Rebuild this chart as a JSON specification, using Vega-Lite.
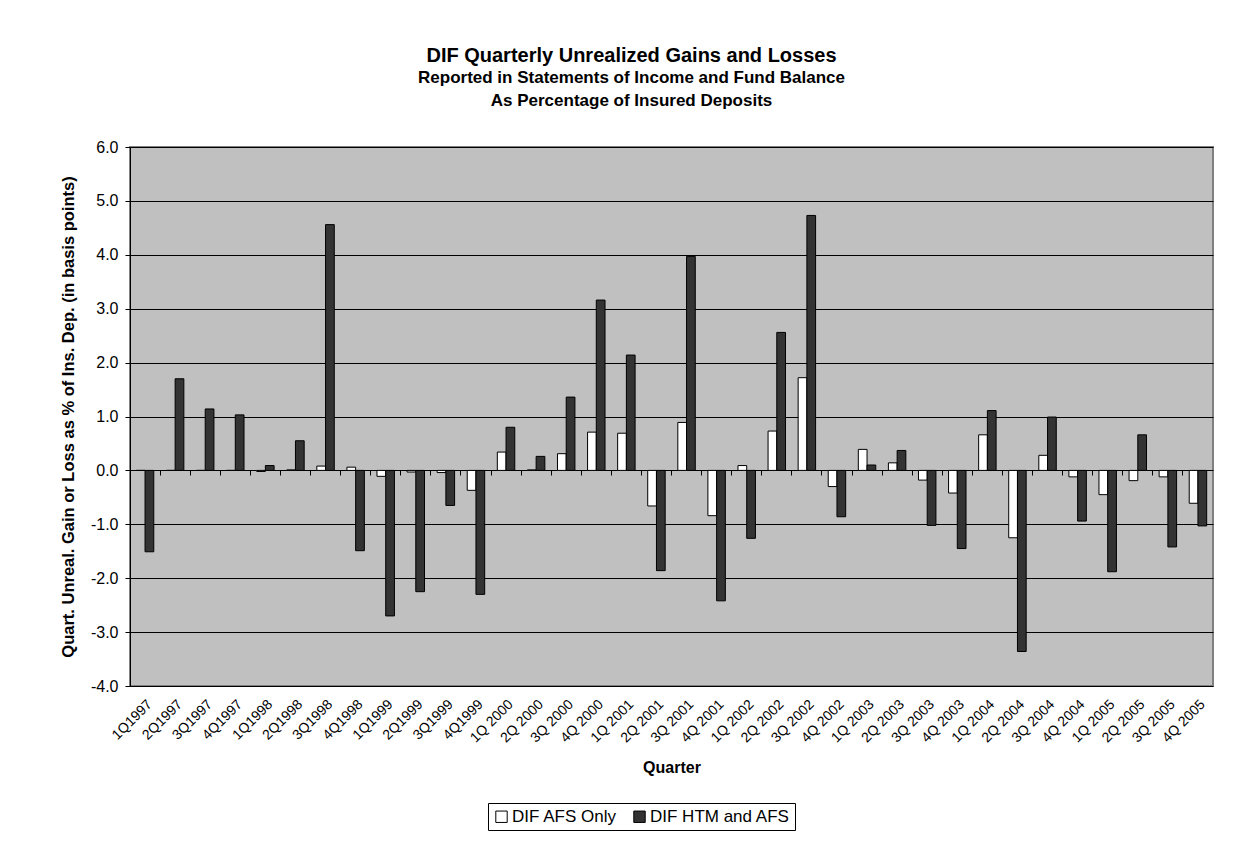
{
  "$schema": "https://vega.github.io/schema/vega-lite/v6.json",
  "autosize": {"type": "none"},
  "width": 1083,
  "height": 539,
  "padding": {"left": 130, "top": 147, "right": 32, "bottom": 156},
  "background": "white",
  "config": {
    "font": "Liberation Sans",
    "locale": {"number": {"decimal": ".", "thousands": ",", "grouping": [3], "currency": ["$", ""], "minus": "-"}},
    "view": {"fill": "#C0C0C0", "stroke": "#808080", "strokeWidth": 2},
    "axis": {"labelColor": "black", "titleColor": "black", "tickColor": "black", "domainColor": "black"}
  },
  "title": {
    "text": "DIF Quarterly Unrealized Gains and Losses",
    "subtitle": ["Reported in Statements of Income and Fund Balance", "As Percentage of Insured Deposits"],
    "anchor": "middle",
    "frame": "group",
    "dx": -40,
    "offset": 30,
    "font": "Liberation Sans",
    "fontSize": 20,
    "fontWeight": "bold",
    "color": "black",
    "subtitleFont": "Liberation Sans",
    "subtitleFontSize": 17,
    "subtitleFontWeight": "bold",
    "subtitleColor": "black",
    "subtitleLineHeight": 23,
    "subtitlePadding": 4
  },
  "data": {
    "values": [
      {"quarter": "1Q1997", "series": "DIF AFS Only", "value": 0},
      {"quarter": "1Q1997", "series": "DIF HTM and AFS", "value": -1.51},
      {"quarter": "2Q1997", "series": "DIF AFS Only", "value": 0},
      {"quarter": "2Q1997", "series": "DIF HTM and AFS", "value": 1.70},
      {"quarter": "3Q1997", "series": "DIF AFS Only", "value": 0},
      {"quarter": "3Q1997", "series": "DIF HTM and AFS", "value": 1.14},
      {"quarter": "4Q1997", "series": "DIF AFS Only", "value": 0},
      {"quarter": "4Q1997", "series": "DIF HTM and AFS", "value": 1.03},
      {"quarter": "1Q1998", "series": "DIF AFS Only", "value": -0.02},
      {"quarter": "1Q1998", "series": "DIF HTM and AFS", "value": 0.09},
      {"quarter": "2Q1998", "series": "DIF AFS Only", "value": 0.01},
      {"quarter": "2Q1998", "series": "DIF HTM and AFS", "value": 0.55},
      {"quarter": "3Q1998", "series": "DIF AFS Only", "value": 0.08},
      {"quarter": "3Q1998", "series": "DIF HTM and AFS", "value": 4.56},
      {"quarter": "4Q1998", "series": "DIF AFS Only", "value": 0.06},
      {"quarter": "4Q1998", "series": "DIF HTM and AFS", "value": -1.49},
      {"quarter": "1Q1999", "series": "DIF AFS Only", "value": -0.11},
      {"quarter": "1Q1999", "series": "DIF HTM and AFS", "value": -2.70},
      {"quarter": "2Q1999", "series": "DIF AFS Only", "value": -0.03},
      {"quarter": "2Q1999", "series": "DIF HTM and AFS", "value": -2.25},
      {"quarter": "3Q1999", "series": "DIF AFS Only", "value": -0.04},
      {"quarter": "3Q1999", "series": "DIF HTM and AFS", "value": -0.65},
      {"quarter": "4Q1999", "series": "DIF AFS Only", "value": -0.37},
      {"quarter": "4Q1999", "series": "DIF HTM and AFS", "value": -2.30},
      {"quarter": "1Q 2000", "series": "DIF AFS Only", "value": 0.34},
      {"quarter": "1Q 2000", "series": "DIF HTM and AFS", "value": 0.80},
      {"quarter": "2Q 2000", "series": "DIF AFS Only", "value": 0.01},
      {"quarter": "2Q 2000", "series": "DIF HTM and AFS", "value": 0.26},
      {"quarter": "3Q 2000", "series": "DIF AFS Only", "value": 0.31},
      {"quarter": "3Q 2000", "series": "DIF HTM and AFS", "value": 1.36},
      {"quarter": "4Q 2000", "series": "DIF AFS Only", "value": 0.71},
      {"quarter": "4Q 2000", "series": "DIF HTM and AFS", "value": 3.16},
      {"quarter": "1Q 2001", "series": "DIF AFS Only", "value": 0.69},
      {"quarter": "1Q 2001", "series": "DIF HTM and AFS", "value": 2.14},
      {"quarter": "2Q 2001", "series": "DIF AFS Only", "value": -0.66},
      {"quarter": "2Q 2001", "series": "DIF HTM and AFS", "value": -1.86},
      {"quarter": "3Q 2001", "series": "DIF AFS Only", "value": 0.89},
      {"quarter": "3Q 2001", "series": "DIF HTM and AFS", "value": 3.97},
      {"quarter": "4Q 2001", "series": "DIF AFS Only", "value": -0.84},
      {"quarter": "4Q 2001", "series": "DIF HTM and AFS", "value": -2.42},
      {"quarter": "1Q 2002", "series": "DIF AFS Only", "value": 0.09},
      {"quarter": "1Q 2002", "series": "DIF HTM and AFS", "value": -1.26},
      {"quarter": "2Q 2002", "series": "DIF AFS Only", "value": 0.73},
      {"quarter": "2Q 2002", "series": "DIF HTM and AFS", "value": 2.56},
      {"quarter": "3Q 2002", "series": "DIF AFS Only", "value": 1.72},
      {"quarter": "3Q 2002", "series": "DIF HTM and AFS", "value": 4.73},
      {"quarter": "4Q 2002", "series": "DIF AFS Only", "value": -0.30},
      {"quarter": "4Q 2002", "series": "DIF HTM and AFS", "value": -0.86},
      {"quarter": "1Q 2003", "series": "DIF AFS Only", "value": 0.39},
      {"quarter": "1Q 2003", "series": "DIF HTM and AFS", "value": 0.10},
      {"quarter": "2Q 2003", "series": "DIF AFS Only", "value": 0.14},
      {"quarter": "2Q 2003", "series": "DIF HTM and AFS", "value": 0.37},
      {"quarter": "3Q 2003", "series": "DIF AFS Only", "value": -0.18},
      {"quarter": "3Q 2003", "series": "DIF HTM and AFS", "value": -1.02},
      {"quarter": "4Q 2003", "series": "DIF AFS Only", "value": -0.42},
      {"quarter": "4Q 2003", "series": "DIF HTM and AFS", "value": -1.45},
      {"quarter": "1Q 2004", "series": "DIF AFS Only", "value": 0.66},
      {"quarter": "1Q 2004", "series": "DIF HTM and AFS", "value": 1.11},
      {"quarter": "2Q 2004", "series": "DIF AFS Only", "value": -1.25},
      {"quarter": "2Q 2004", "series": "DIF HTM and AFS", "value": -3.36},
      {"quarter": "3Q 2004", "series": "DIF AFS Only", "value": 0.28},
      {"quarter": "3Q 2004", "series": "DIF HTM and AFS", "value": 0.99},
      {"quarter": "4Q 2004", "series": "DIF AFS Only", "value": -0.12},
      {"quarter": "4Q 2004", "series": "DIF HTM and AFS", "value": -0.94},
      {"quarter": "1Q 2005", "series": "DIF AFS Only", "value": -0.45},
      {"quarter": "1Q 2005", "series": "DIF HTM and AFS", "value": -1.88},
      {"quarter": "2Q 2005", "series": "DIF AFS Only", "value": -0.19},
      {"quarter": "2Q 2005", "series": "DIF HTM and AFS", "value": 0.66},
      {"quarter": "3Q 2005", "series": "DIF AFS Only", "value": -0.12},
      {"quarter": "3Q 2005", "series": "DIF HTM and AFS", "value": -1.42},
      {"quarter": "4Q 2005", "series": "DIF AFS Only", "value": -0.61},
      {"quarter": "4Q 2005", "series": "DIF HTM and AFS", "value": -1.03}
    ]
  },
  "layer": [
    {
      "mark": {"type": "bar", "stroke": "black", "strokeWidth": 1},
      "encoding": {
        "x": {
          "field": "quarter", "type": "nominal", "sort": null,
          "scale": {"paddingInner": 0.42, "paddingOuter": 0.21},
          "axis": {
            "title": "Quarter",
            "labelAngle": -45,
            "labelFontSize": 14,
            "labelPadding": 11,
            "ticks": false,
            "domain": false,
            "titleFontSize": 16,
            "titleFontWeight": "bold",
            "titleY": 81,
            "titleBaseline": "middle"
          }
        },
        "xOffset": {"field": "series", "type": "nominal", "sort": ["DIF AFS Only", "DIF HTM and AFS"], "scale": {"paddingInner": 0, "paddingOuter": 0}},
        "y": {
          "field": "value", "type": "quantitative",
          "scale": {"domain": [-4, 6], "nice": false, "zero": false},
          "axis": {
            "title": "Quart. Unreal. Gain or Loss as % of Ins. Dep. (in basis points)",
            "values": [-4, -3, -2, -1, 0, 1, 2, 3, 4, 5, 6],
            "format": ".1f",
            "grid": true,
            "gridColor": "black",
            "gridWidth": 1,
            "tickSize": 5,
            "labelPadding": 7,
            "labelFontSize": 16,
            "titleFontSize": 16.5,
            "titleFontWeight": "bold",
            "titleX": -62,
            "titleY": 269.5,
            "titleAlign": "center",
            "titleBaseline": "middle"
          }
        },
        "fill": {
          "field": "series", "type": "nominal",
          "scale": {"domain": ["DIF AFS Only", "DIF HTM and AFS"], "range": ["#FFFFFF", "#333333"]},
          "legend": {
            "title": null,
            "orient": "none",
            "legendX": 358,
            "legendY": 656,
            "direction": "horizontal",
            "strokeColor": "black",
            "fillColor": "white",
            "padding": 5,
            "symbolType": "square",
            "symbolSize": 130,
            "symbolStrokeColor": "black",
            "symbolStrokeWidth": 1,
            "labelFontSize": 17,
            "labelColor": "black",
            "labelOffset": 2,
            "columnPadding": 14
          }
        }
      }
    },
    {
      "mark": {"type": "point", "opacity": 0},
      "encoding": {
        "x": {
          "field": "quarter", "type": "nominal", "sort": null,
          "axis": {
            "orient": "bottom",
            "offset": -216,
            "labels": false,
            "title": null,
            "domain": false,
            "grid": false,
            "ticks": true,
            "tickSize": 5,
            "tickColor": "black",
            "bandPosition": -0.362
          }
        },
        "y": {"field": "value", "type": "quantitative"}
      }
    }
  ],
  "resolve": {"axis": {"x": "independent"}}
}
